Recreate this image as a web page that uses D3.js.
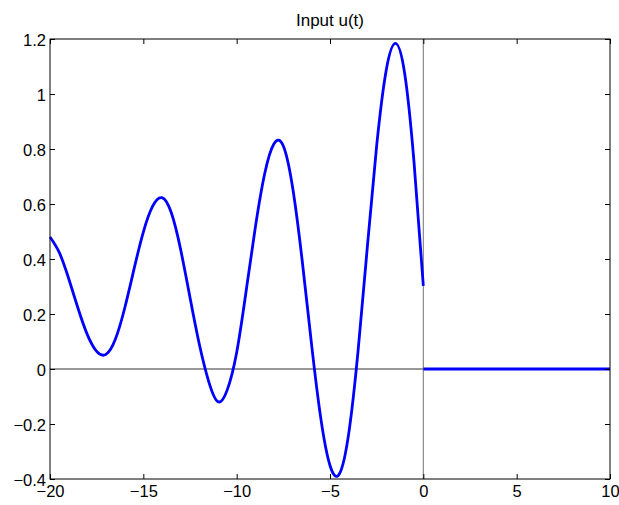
<!DOCTYPE html>
<html>
<head>
<meta charset="utf-8">
<script src="https://cdn.jsdelivr.net/npm/d3@7"></script>
<style>
  body { margin: 0; background: #fff; }
  text { font-family: "Liberation Sans", Arial, sans-serif; fill: #000; }
</style>
</head>
<body>
<svg width="619" height="505"></svg>
<script>
// DATA (every 0.5 s)
const tNeg = [-20, -19.5, -19, -18.5, -18, -17.5, -17, -16.5, -16, -15.5, -15, -14.5, -14,
  -13.5, -13, -12.5, -12, -11.5, -11, -10.5, -10, -9.5, -9, -8.5, -8, -7.5, -7, -6.5, -6,
  -5.5, -5, -4.5, -4, -3.5, -3, -2.5, -2, -1.5, -1, -0.5, 0];
const uNeg = [0.48, 0.423, 0.329, 0.221, 0.125, 0.064, 0.053, 0.108, 0.221, 0.363, 0.498, 0.592, 0.623,
  0.568, 0.434, 0.26, 0.09, -0.045, -0.119, -0.075, 0.06, 0.28, 0.515, 0.71, 0.819, 0.811, 0.659, 0.4, 0.097,
  -0.176, -0.351, -0.382, -0.236, 0.063, 0.444, 0.812, 1.082, 1.184, 1.075, 0.753, 0.302];
const tPos = [0, 10];
const uPos = [0, 0];

const xTicks = [-20, -15, -10, -5, 0, 5, 10];
const yTicks = [-0.4, -0.2, 0, 0.2, 0.4, 0.6, 0.8, 1, 1.2];
const title = "Input u(t)";

// CONSTANTS
const svg = d3.select("svg");
const margin = { top: 39, left: 50, right: 9, bottom: 26 };
const width = +svg.attr("width");
const height = +svg.attr("height");
const fontSize = "16.5px";

// SCALES
const xScale = d3.scaleLinear().domain([-20, 10]).range([margin.left, width - margin.right]);
const yScale = d3.scaleLinear().domain([-0.4, 1.2]).range([height - margin.bottom, margin.top]);

const fmt = d => String(+d.toFixed(1)).replace("-", "\u2212");

// zero lines
svg.append("line")
  .attr("x1", xScale(-20)).attr("x2", xScale(10))
  .attr("y1", yScale(0)).attr("y2", yScale(0))
  .attr("stroke", "#333").attr("stroke-width", 1);
svg.append("line")
  .attr("x1", xScale(0)).attr("x2", xScale(0))
  .attr("y1", yScale(-0.4)).attr("y2", yScale(1.2))
  .attr("stroke", "#888").attr("stroke-width", 1.2);

// curves
const line = d3.line()
  .x(d => xScale(d[0]))
  .y(d => yScale(d[1]))
  .curve(d3.curveNatural);

svg.append("path")
  .datum(d3.zip(tNeg, uNeg))
  .attr("d", line)
  .attr("fill", "none")
  .attr("stroke", "#0000ff")
  .attr("stroke-width", 2.8)
  .attr("stroke-linejoin", "round");

svg.append("path")
  .datum(d3.zip(tPos, uPos))
  .attr("d", line)
  .attr("fill", "none")
  .attr("stroke", "#0000ff")
  .attr("stroke-width", 2.8);

// AXES (inward ticks on all four sides, like matlab)
const styleAxis = g => {
  g.select(".domain").remove();
  g.selectAll(".tick line").attr("stroke", "#000");
  g.selectAll("text").style("font-size", fontSize).attr("fill", "#000");
};

svg.append("g")
  .attr("transform", `translate(0, ${yScale(-0.4)})`)
  .call(d3.axisBottom(xScale).tickValues(xTicks).tickFormat(fmt).tickSize(-5).tickPadding(6))
  .call(styleAxis);
svg.append("g")
  .attr("transform", `translate(0, ${yScale(1.2)})`)
  .call(d3.axisTop(xScale).tickValues(xTicks).tickFormat("").tickSize(-5))
  .call(styleAxis);
svg.append("g")
  .attr("transform", `translate(${xScale(-20)}, 0)`)
  .call(d3.axisLeft(yScale).tickValues(yTicks).tickFormat(fmt).tickSize(-5).tickPadding(4))
  .call(styleAxis)
  .call(g => g.selectAll("text").attr("dy", "0.42em"));
svg.append("g")
  .attr("transform", `translate(${xScale(10)}, 0)`)
  .call(d3.axisRight(yScale).tickValues(yTicks).tickFormat("").tickSize(-5))
  .call(styleAxis);

// box
svg.append("rect")
  .attr("x", xScale(-20)).attr("y", yScale(1.2))
  .attr("width", xScale(10) - xScale(-20))
  .attr("height", yScale(-0.4) - yScale(1.2))
  .attr("fill", "none")
  .attr("stroke", "#000")
  .attr("stroke-width", 1);

// title
svg.append("text")
  .attr("x", (xScale(-20) + xScale(10)) / 2)
  .attr("y", 26)
  .attr("text-anchor", "middle")
  .style("font-size", "17px")
  .text(title);
</script>
</body>
</html>
